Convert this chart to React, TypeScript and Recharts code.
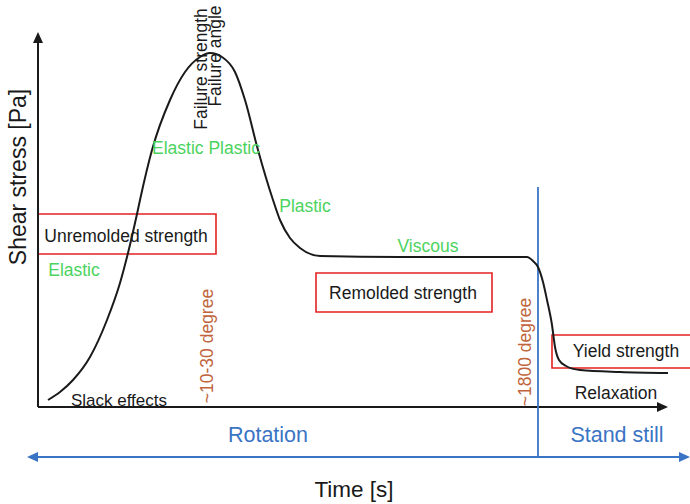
import React from 'react';
import { LineChart, Line, XAxis, YAxis, ReferenceLine, ReferenceArea, ReferenceDot } from 'recharts';

// schematic shear stress curve (time / stress in arbitrary units)
const curveTime = [10, 22, 35, 52, 69, 82, 90, 99, 102, 114, 132, 147, 162, 172, 184, 197, 207, 220, 235, 242, 252, 262, 282, 362, 489, 495, 500, 505, 509, 514, 517, 521, 528, 542, 582, 630];
const curveStress = [7, 15, 27, 50, 87, 124, 154, 193, 207, 257, 307, 335, 350, 354, 350, 335, 307, 257, 207, 187, 169, 159, 151, 150, 150, 146, 140, 125, 107, 82, 60, 47, 41, 37, 35, 34];

const data = curveTime.map((t, i) => ({ t, s: curveStress[i] }));

const BLACK = '#1a1a1a';
const GREEN = '#4cd35e';
const BROWN = '#c0643c';
const BLUE = '#3a74c4';
const RED = '#e32222';
const FONT = '"Liberation Sans", Arial, sans-serif';

type Note = { text: string; x: number; y: number; color: string; size: number; rot?: number };

const notes: Note[] = [
  { text: 'Shear stress [Pa]', x: -20, y: 230, color: BLACK, size: 23, rot: -90 },
  { text: 'Time [s]', x: 316, y: -82, color: BLACK, size: 22.5 },
  { text: 'Rotation', x: 230, y: -28, color: BLUE, size: 21.5 },
  { text: 'Stand still', x: 579, y: -28, color: BLUE, size: 21.5 },
  { text: 'Slack effects', x: 81, y: 7, color: BLACK, size: 17 },
  { text: '~10-30 degree', x: 169, y: 61, color: BROWN, size: 17.5, rot: -90 },
  { text: '~1800 degree', x: 487, y: 55, color: BROWN, size: 17.5, rot: -90 },
  { text: 'Failure strength', x: 163, y: 338, color: BLACK, size: 17.5, rot: -90 },
  { text: 'Failure angle', x: 177, y: 351, color: BLACK, size: 17.5, rot: -90 },
  { text: 'Elastic Plastic', x: 168, y: 259, color: GREEN, size: 17.5 },
  { text: 'Plastic', x: 267, y: 201, color: GREEN, size: 17.5 },
  { text: 'Viscous', x: 390, y: 161, color: GREEN, size: 17.5 },
  { text: 'Elastic', x: 36, y: 137, color: GREEN, size: 17.5 },
  { text: 'Unremolded strength', x: 88, y: 171, color: BLACK, size: 17.5 },
  { text: 'Remolded strength', x: 365, y: 114, color: BLACK, size: 17.5 },
  { text: 'Yield strength', x: 588, y: 56, color: BLACK, size: 17.5 },
  { text: 'Relaxation', x: 578, y: 14, color: BLACK, size: 17.5 },
];

const boxes = [
  { x1: 0, x2: 178, y1: 153, y2: 193 },
  { x1: 278, x2: 454, y1: 95, y2: 134 },
  { x1: 514, x2: 654, y1: 39, y2: 72 },
];

const arrows = [
  { x: 0, y: 375, dir: 'up', color: BLACK },
  { x: 630, y: 0, dir: 'right', color: BLACK },
  { x: -11, y: -50, dir: 'left', color: BLUE },
  { x: 652, y: -50, dir: 'right', color: BLUE },
];

function arrowShape(dir: string, color: string) {
  return (p: any) => {
    const { cx, cy } = p;
    let pts = '';
    if (dir === 'up') pts = `${cx},${cy} ${cx - 5},${cy + 11} ${cx + 5},${cy + 11}`;
    if (dir === 'right') pts = `${cx},${cy} ${cx - 11},${cy - 5} ${cx - 11},${cy + 5}`;
    if (dir === 'left') pts = `${cx},${cy} ${cx + 11},${cy - 5} ${cx + 11},${cy + 5}`;
    return <polygon points={pts} fill={color} />;
  };
}

function textShape(n: Note) {
  return (p: any) => {
    const { cx, cy } = p;
    return (
      <text
        x={cx}
        y={cy}
        textAnchor="middle"
        dominantBaseline="central"
        fill={n.color}
        fontSize={n.size}
        fontFamily={FONT}
        transform={n.rot ? `rotate(${n.rot} ${cx} ${cy})` : undefined}
      >
        {n.text}
      </text>
    );
  };
}

export default function App() {
  return (
    <div style={{ position: 'absolute', left: 0, top: 0, background: '#fff' }}>
      <LineChart width={690} height={504} data={data} margin={{ top: 32, right: 22, bottom: 97, left: 38 }}>
        <XAxis dataKey="t" type="number" domain={[0, 630]} hide allowDataOverflow />
        <YAxis type="number" domain={[0, 375]} hide allowDataOverflow />

        {boxes.map((b, i) => (
          <ReferenceArea key={'b' + i} {...b} fill="none" stroke={RED} strokeWidth={1.6} fillOpacity={0} ifOverflow="visible" />
        ))}

        <ReferenceLine segment={[{ x: 0, y: 0 }, { x: 0, y: 366 }]} stroke={BLACK} strokeWidth={2} ifOverflow="visible" />
        <ReferenceLine segment={[{ x: 0, y: 0 }, { x: 621, y: 0 }]} stroke={BLACK} strokeWidth={2} ifOverflow="visible" />
        <ReferenceLine segment={[{ x: 500, y: 220 }, { x: 500, y: -50 }]} stroke={BLUE} strokeWidth={1.8} ifOverflow="visible" />
        <ReferenceLine segment={[{ x: -2, y: -50 }, { x: 643, y: -50 }]} stroke={BLUE} strokeWidth={2} ifOverflow="visible" />

        <Line dataKey="s" type="monotone" stroke={BLACK} strokeWidth={2} dot={false} isAnimationActive={false} />

        {arrows.map((a, i) => (
          <ReferenceDot key={'a' + i} x={a.x} y={a.y} r={0} ifOverflow="visible" shape={arrowShape(a.dir, a.color)} />
        ))}
        {notes.map((n, i) => (
          <ReferenceDot key={'n' + i} x={n.x} y={n.y} r={0} ifOverflow="visible" shape={textShape(n)} />
        ))}
      </LineChart>
    </div>
  );
}
